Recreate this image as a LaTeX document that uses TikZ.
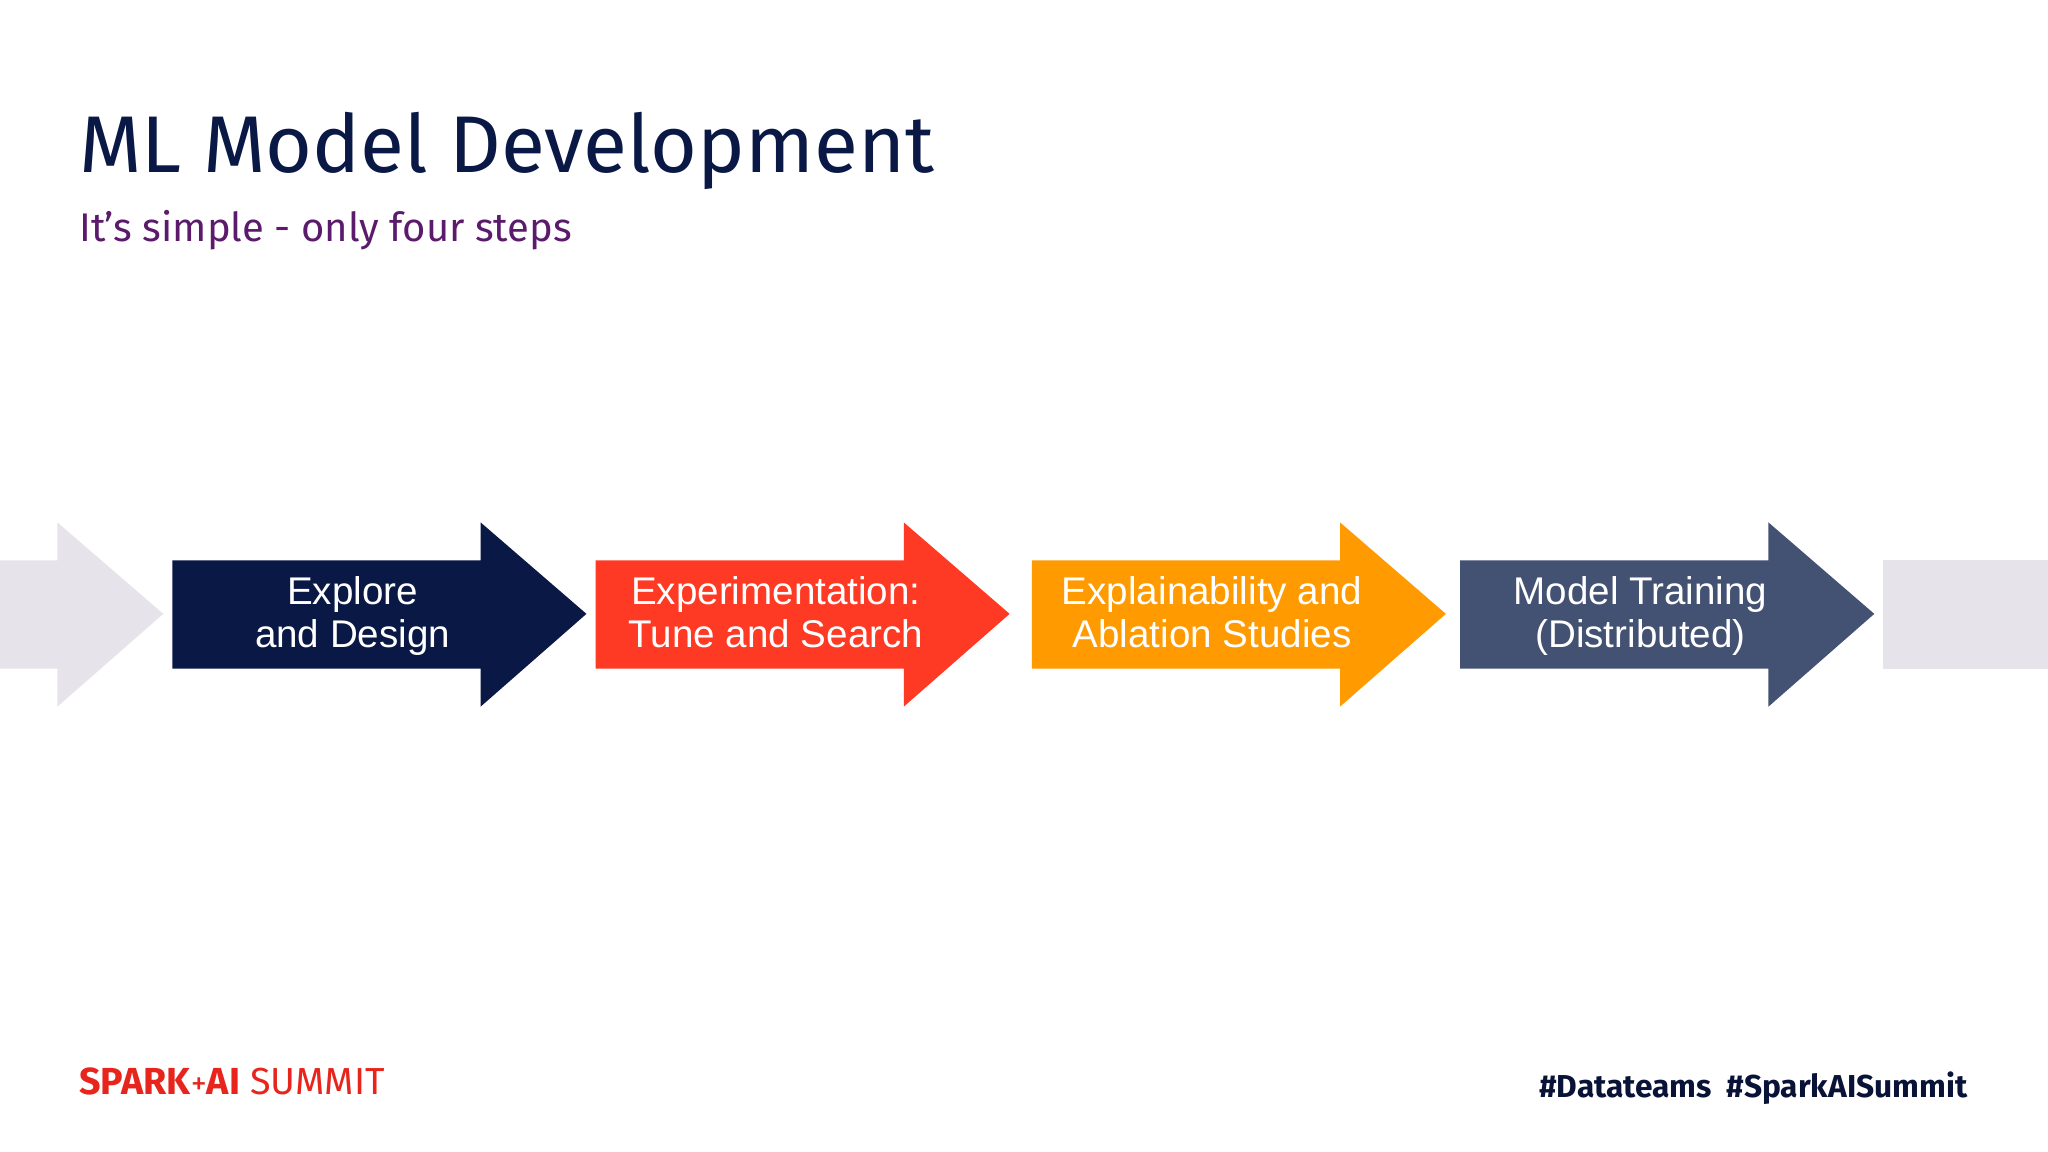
\documentclass[tikz,border=0pt]{standalone}
\usepackage{fontspec}
\setmainfont{Liberation Sans}
\newfontfamily\titlefont{Fira Sans}
\definecolor{navy}{HTML}{0A1845}
\definecolor{redA}{HTML}{FF3A24}
\definecolor{orangeA}{HTML}{FF9A00}
\definecolor{slateA}{HTML}{435172}
\definecolor{ghost}{HTML}{E6E4EA}
\definecolor{purpleA}{HTML}{5B1A6B}
\definecolor{sparkred}{HTML}{E8251C}
\tikzset{
  x=0.01cm,y=-0.01cm,
  lbl/.style={text=white,font=\fontsize{8.4pt}{9.4pt}\selectfont,align=center,anchor=base}
}
\newcommand{\steparrow}[3]{%
  \fill[#3] (#1,429) -- (#2,429) -- (#2,400) -- (#2+81,470) -- (#2,541) -- (#2,512) -- (#1,512) -- cycle;}
\begin{document}
\begin{tikzpicture}
\fill[white] (0,0) rectangle (1568,882);
\useasboundingbox (0,0) rectangle (1568,882);
\node[anchor=base west,inner sep=0,text=navy,font=\titlefont\fontsize{17.5pt}{20pt}\selectfont] (title) at (60,132) {ML Model Development};
\node[anchor=base west,inner sep=0,text=purpleA,font=\titlefont\fontsize{8.7pt}{10pt}\selectfont] (sub) at (60,185) {It’s simple - only four steps};
\steparrow{0}{44}{ghost}
\steparrow{132}{368}{navy}
\steparrow{456}{692}{redA}
\steparrow{790}{1026}{orangeA}
\steparrow{1118}{1354}{slateA}
\fill[ghost] (1442,429) rectangle (1568,512);
\node[lbl] (s1) at (270,496) {Explore\\and Design};
\node[lbl] (s2) at (594,496) {Experimentation:\\Tune and Search};
\node[lbl] (s3) at (928,496) {Explainability and\\Ablation Studies};
\node[lbl] (s4) at (1256,496) {Model Training\\(Distributed)};
\node[anchor=base west,inner sep=0,font=\titlefont\fontsize{8.2pt}{9pt}\selectfont,text=sparkred] (logo) at (60,838) {\textbf{SPARK}{\scriptsize+}\textbf{AI} SUMMIT};
\node[anchor=base east,inner sep=0,font=\titlefont\bfseries\fontsize{6.9pt}{8pt}\selectfont,text=navy!80!black] (tags) at (1507,840) {\#Datateams\ \ \#SparkAISummit};
\end{tikzpicture}
\end{document}
